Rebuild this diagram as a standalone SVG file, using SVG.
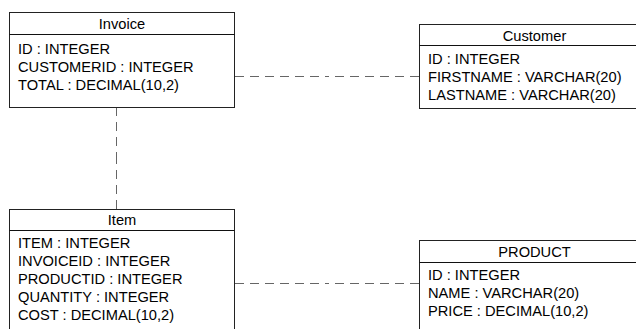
<svg xmlns="http://www.w3.org/2000/svg" width="636" height="329" viewBox="0 0 636 329">
  <style>
    .box { fill: #ffffff; stroke: #222222; stroke-width: 1; }
    .sep { stroke: #111111; stroke-width: 1; }
    .title { font-family: "Liberation Sans", Arial, sans-serif; font-size: 14.67px; fill: #000; text-anchor: middle; }
    .attr { font-family: "Liberation Sans", Arial, sans-serif; font-size: 14.67px; fill: #000; }
    .rel { fill: none; stroke: #666666; stroke-width: 1; stroke-dasharray: 9 6; }
  </style>
  <rect width="636" height="329" fill="#ffffff"/>

  <!-- relationships: each drawn from both ends toward the middle -->
  <g id="connectors">
    <path class="rel" d="M235 76.5 H327"/>
    <path class="rel" d="M419 76.5 H327"/>
    <path class="rel" d="M235 283.5 H327"/>
    <path class="rel" d="M419 283.5 H327"/>
    <path class="rel" d="M116.5 107 V158"/>
    <path class="rel" d="M116.5 209 V158"/>
  </g>

  <g id="invoice">
    <rect class="box" x="9.5" y="12.5" width="225" height="95"/>
    <line class="sep" x1="9.5" y1="34.5" x2="234.5" y2="34.5"/>
    <text class="title" x="122" y="29">Invoice</text>
    <text class="attr" x="18" y="53.5">ID : INTEGER</text>
    <text class="attr" x="18" y="71.5">CUSTOMERID : INTEGER</text>
    <text class="attr" x="18" y="89.5">TOTAL : DECIMAL(10,2)</text>
  </g>

  <g id="customer">
    <rect class="box" x="419.5" y="24.5" width="230" height="84"/>
    <line class="sep" x1="419.5" y1="45.5" x2="649.5" y2="45.5"/>
    <text class="title" x="534.5" y="41">Customer</text>
    <text class="attr" x="428" y="64">ID : INTEGER</text>
    <text class="attr" x="428" y="82">FIRSTNAME : VARCHAR(20)</text>
    <text class="attr" x="428" y="100">LASTNAME : VARCHAR(20)</text>
  </g>

  <g id="item">
    <rect class="box" x="9.5" y="209.5" width="225" height="130"/>
    <line class="sep" x1="9.5" y1="230.5" x2="234.5" y2="230.5"/>
    <text class="title" x="122" y="225">Item</text>
    <text class="attr" x="18" y="248">ITEM : INTEGER</text>
    <text class="attr" x="18" y="266">INVOICEID : INTEGER</text>
    <text class="attr" x="18" y="284">PRODUCTID : INTEGER</text>
    <text class="attr" x="18" y="302">QUANTITY : INTEGER</text>
    <text class="attr" x="18" y="320">COST : DECIMAL(10,2)</text>
  </g>

  <g id="product">
    <rect class="box" x="419.5" y="240.5" width="230" height="100"/>
    <line class="sep" x1="419.5" y1="262.5" x2="649.5" y2="262.5"/>
    <text class="title" x="534.5" y="257">PRODUCT</text>
    <text class="attr" x="428" y="280">ID : INTEGER</text>
    <text class="attr" x="428" y="298">NAME : VARCHAR(20)</text>
    <text class="attr" x="428" y="316">PRICE : DECIMAL(10,2)</text>
  </g>
</svg>
